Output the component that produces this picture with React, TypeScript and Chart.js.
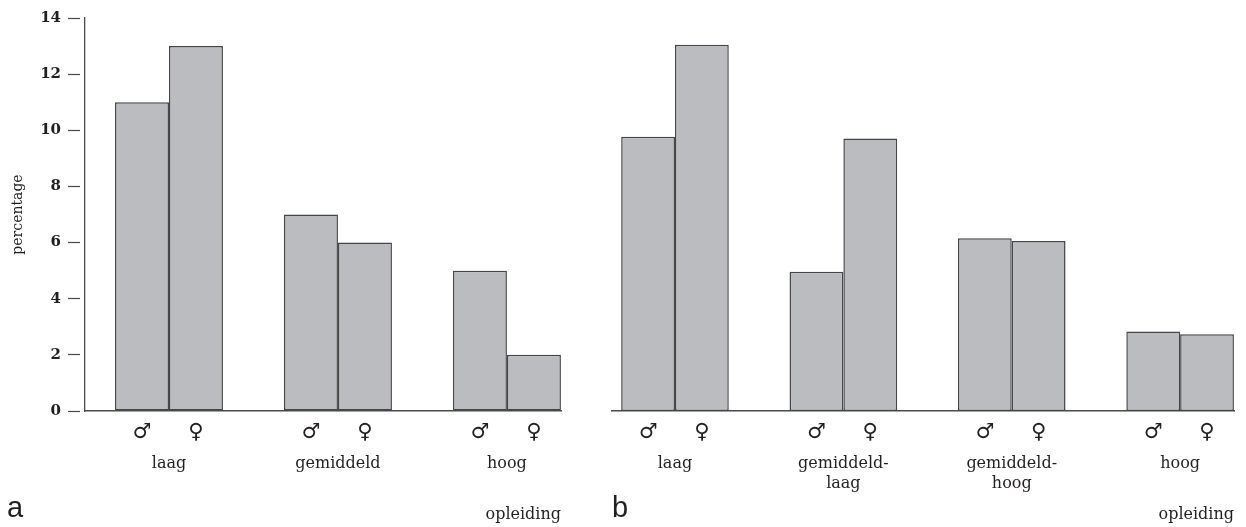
import React, { useEffect, useRef } from "react";
import { Chart, registerables } from "chart.js";

Chart.register(...registerables);

// ---- data ----
const categoriesA: string[][] = [["laag"], ["gemiddeld"], ["hoog"]];
const maleA: number[] = [11.0, 7.0, 5.0];
const femaleA: number[] = [13.0, 6.0, 2.0];

const categoriesB: string[][] = [["laag"], ["gemiddeld-", "laag"], ["gemiddeld-", "hoog"], ["hoog"]];
const maleB: number[] = [9.77, 4.96, 6.15, 2.83];
const femaleB: number[] = [13.05, 9.71, 6.06, 2.73];

const yTicks: number[] = [0, 2, 4, 6, 8, 10, 12, 14];
const sexSymbols: string[] = ["\u2642", "\u2640"];
const axisTitleX = "opleiding";
const axisTitleY = "percentage";

// ---- styles ----
const BAR_FILL = "#bbbcc0";
const BAR_EDGE = "#454545";
const AXIS = "#4a4a4a";
const TEXT = "#231f20";
const SERIF = "'DejaVu Serif', 'Liberation Serif', serif";
const CAT_PCT = 0.639;

type PanelProps = {
  categories: string[][];
  male: number[];
  female: number[];
  showY: boolean;
  xMin: number;
  xMax: number;
  padLeft: number;
  padRight: number;
  yWidth: number;
  width: number;
};

function Panel(p: PanelProps) {
  const ref = useRef<HTMLCanvasElement | null>(null);
  useEffect(() => {
    if (!ref.current) return;
    const toPts = (arr: number[]) => arr.map((v, i) => ({ x: i, y: v }));
    const ds = (label: string, arr: number[]) => ({
      label,
      data: toPts(arr),
      backgroundColor: BAR_FILL,
      borderColor: BAR_EDGE,
      borderWidth: 1.5,
      borderSkipped: false as const,
      categoryPercentage: CAT_PCT,
      barPercentage: 1,
      xAxisID: "x",
      yAxisID: "y",
    });
    const off = CAT_PCT / 4;
    const chart = new Chart(ref.current, {
      type: "bar",
      data: { datasets: [ds("\u2642", p.male), ds("\u2640", p.female)] },
      options: {
        animation: false,
        responsive: false,
        maintainAspectRatio: false,
        layout: { padding: { left: p.padLeft, right: p.padRight, top: 18, bottom: 0 } },
        plugins: { legend: { display: false }, tooltip: { enabled: false } },
        scales: {
          xs: {
            type: "linear",
            position: "bottom",
            weight: 0,
            offset: false,
            min: p.xMin,
            max: p.xMax,
            afterBuildTicks: (s: any) => {
              s.ticks = p.categories.flatMap((_, i) => [{ value: i - off }, { value: i + off }]);
            },
            afterFit: (s: any) => {
              s.height = 36;
            },
            grid: { display: false, drawTicks: false, offset: false },
            border: { display: true, color: AXIS, width: 1.4 },
            ticks: {
              autoSkip: false,
              maxRotation: 0,
              minRotation: 0,
              padding: 9,
              color: TEXT,
              font: { family: "'DejaVu Sans', sans-serif", size: 21 },
              callback: (_v: any, i: number) => sexSymbols[i % 2],
            },
          },
          x: {
            type: "linear",
            position: "bottom",
            weight: 1,
            offset: false,
            min: p.xMin,
            max: p.xMax,
            afterBuildTicks: (s: any) => {
              s.ticks = p.categories.map((_, i) => ({ value: i }));
            },
            afterFit: (s: any) => {
              s.height = 80;
            },
            grid: { display: false, drawTicks: false, offset: false },
            border: { display: false },
            ticks: {
              autoSkip: false,
              maxRotation: 0,
              minRotation: 0,
              padding: 6,
              color: TEXT,
              font: { family: SERIF, size: 16, lineHeight: 1.3 },
              callback: (_v: any, i: number) => p.categories[i],
            },
            title: {
              display: true,
              text: axisTitleX,
              align: "end",
              color: TEXT,
              font: { family: SERIF, size: 16 },
              padding: { top: 0, bottom: 3 },
            },
          },
          y: {
            type: "linear",
            display: p.showY,
            min: 0,
            max: 14,
            afterBuildTicks: (s: any) => {
              s.ticks = yTicks.map((v) => ({ value: v }));
            },
            afterFit: (s: any) => {
              s.width = p.yWidth;
            },
            grid: {
              drawOnChartArea: false,
              drawTicks: true,
              tickLength: 17,
              tickColor: AXIS,
              tickWidth: 1.2,
              tickBorderDash: [12, 5],
            },
            border: { display: true, color: AXIS, width: 1.3 },
            ticks: {
              padding: 7,
              color: TEXT,
              font: { family: SERIF, size: 15, weight: "bold" },
            },
            title: {
              display: true,
              text: axisTitleY,
              color: TEXT,
              font: { family: SERIF, size: 14 },
              padding: { top: 10, bottom: 0 },
            },
          },
        },
      } as any,
    });
    return () => chart.destroy();
  }, []);
  return <canvas ref={ref} width={p.width} height={527} style={{ display: "block" }} />;
}

export default function App() {
  return (
    <div style={{ position: "absolute", left: 0, top: 0, width: 1246, height: 527, overflow: "hidden", background: "#fff" }}>
      <div style={{ position: "absolute", left: 0, top: 0 }}>
        <Panel categories={categoriesA} male={maleA} female={femaleA} showY={true}
          xMin={-0.497} xMax={2.32} padLeft={0} padRight={39} yWidth={85} width={600} />
      </div>
      <div style={{ position: "absolute", left: 590, top: 0 }}>
        <Panel categories={categoriesB} male={maleB} female={femaleB} showY={false}
          xMin={-0.374} xMax={3.32} padLeft={22} padRight={12} yWidth={0} width={656} />
      </div>
      <span style={{ position: "absolute", left: 7, top: 492, font: "29px 'Liberation Sans', Arial, sans-serif", color: TEXT, lineHeight: "30px" }}>a</span>
      <span style={{ position: "absolute", left: 612, top: 492, font: "29px 'Liberation Sans', Arial, sans-serif", color: TEXT, lineHeight: "30px" }}>b</span>
    </div>
  );
}
